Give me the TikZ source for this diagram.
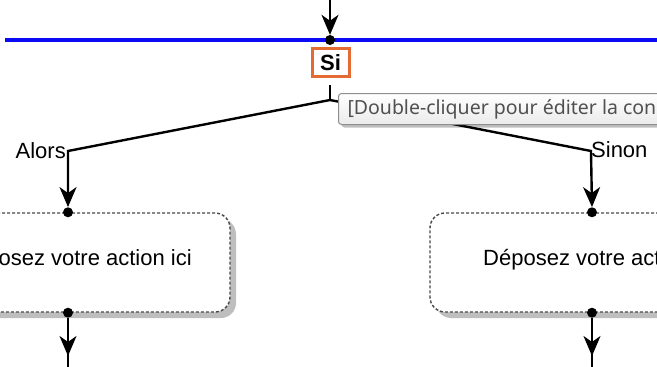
\documentclass[tikz,border=0pt]{standalone}
\usepackage{fontspec}
\setmainfont{Liberation Sans}
\newfontfamily\tipfont{Noto Sans}
\usetikzlibrary{arrows.meta,positioning,shadows}

\definecolor{siorange}{HTML}{E46C34}
\definecolor{barblue}{HTML}{0A0AF5}
\definecolor{boxdash}{HTML}{484848}
\definecolor{boxshadow}{HTML}{BEBEBE}
\definecolor{tipborder}{HTML}{8E8E8E}
\definecolor{tiptext}{HTML}{505050}

\tikzset{
  link/.style={line width=2.4pt},
  flow/.style={line width=2.4pt, -{Stealth[length=20pt,width=17pt,inset=6pt]}},
  dot/.style={circle, fill=black, inner sep=0pt, minimum size=10pt},
  actionbox/.style={draw=boxdash, line width=1.4pt, dash pattern=on 3pt off 2pt,
    rounded corners=15pt, fill=white, minimum width=324pt, minimum height=99pt,
    inner sep=0pt,
    drop shadow={shadow xshift=6pt, shadow yshift=-6pt, fill=boxshadow, opacity=1}},
  actiontext/.style={font=\fontsize{22}{26}\selectfont, anchor=base, inner sep=0pt},
  condbox/.style={draw=siorange, line width=3pt, minimum width=37pt,
    minimum height=28pt, inner sep=0pt, font=\fontsize{22}{26}\selectfont\bfseries},
  branchlabel/.style={font=\fontsize{22}{26}\selectfont, inner sep=0pt},
  tipbox/.style={draw=tipborder, line width=1pt, rounded corners=3pt,
    top color=white, bottom color=black!8, minimum height=31pt,
    inner xsep=9pt, inner ysep=0pt, anchor=north west,
    font=\tipfont\fontsize{19.5}{23}\selectfont, text=tiptext,
    drop shadow={shadow xshift=3pt, shadow yshift=-3pt, fill=black, opacity=0.25}}
}

\begin{document}
\begin{tikzpicture}[x=1pt, y=-1pt]
  \useasboundingbox (0,0) rectangle (657,367);
  \clip (0,0) rectangle (657,367);

  % bar and condition
  \coordinate (entry) at (330,-5);
  \coordinate (barL) at (5,40);
  \coordinate (barR) at (680,40);
  \draw[barblue, line width=3.5pt] (barL) -- (barR);
  \node[dot] (topdot) at (330,40) {};
  \draw[flow] (entry) -- (topdot.north);

  \node[condbox] (si) at (330.5,62.5) {Si};

  % branches
  \coordinate (stem) at (330,85);
  \coordinate (fork) at (330,100);
  \coordinate (bendL) at (68,151);
  \coordinate (bendR) at (591,151);

  \node[actionbox] (lbox) at (68,262.5) {};
  \node[actionbox] (rbox) at (592,262.5) {};
  \node[actiontext] (ltext) at ([xshift=7pt, yshift=-2.5pt]lbox.center) {Déposez votre action ici};
  \node[actiontext] (rtext) at ([xshift=8pt, yshift=-2.5pt]rbox.center) {Déposez votre action ici};

  \node[dot] (ltop) at (lbox.north) {};
  \node[dot] (rtop) at (rbox.north) {};
  \node[dot] (lbot) at (lbox.south) {};
  \node[dot] (rbot) at (rbox.south) {};

  \draw[link] (stem) -- (fork);
  \draw[flow] (fork) -- (bendL) -- (ltop.north);
  \draw[flow] (fork) -- (bendR) -- (rtop.north);

  \node[branchlabel, anchor=base east] (alors) at (66,158) {Alors};
  \node[branchlabel, anchor=base west] (sinon) at (591,157) {Sinon};

  % outgoing
  \coordinate (lout) at (68,372);
  \coordinate (rout) at (592,372);
  \coordinate (ltip) at (68,356);
  \coordinate (rtip) at (592,356);
  \draw[link] (lbot) -- (lout);
  \draw[link] (rbot) -- (rout);
  \draw[flow] (lbot) -- (ltip);
  \draw[flow] (rbot) -- (rtip);

  % tooltip
  \node[tipbox] (tip) at (338,93) {[Double-cliquer pour éditer la condition]};
\end{tikzpicture}
\end{document}
